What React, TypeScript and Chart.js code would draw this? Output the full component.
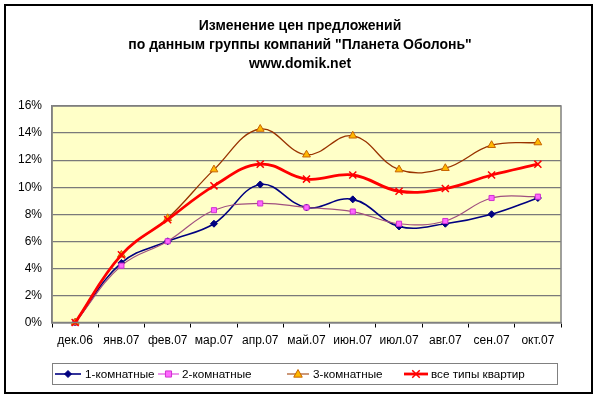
import React, { useEffect, useRef } from "react";
import { Chart, registerables } from "chart.js";

Chart.register(...registerables);

const titleLines = [
  "Изменение цен предложений",
  'по данным группы компаний "Планета Оболонь"',
  "www.domik.net",
];
const categories = ["дек.06", "янв.07", "фев.07", "мар.07", "апр.07", "май.07", "июн.07", "июл.07", "авг.07", "сен.07", "окт.07"];
const seriesNames = ["1-комнатные", "2-комнатные", "3-комнатные", "все типы квартир"];
const oneRoom = [0, 4.4, 6.0, 7.3, 10.2, 8.5, 9.1, 7.1, 7.3, 8.0, 9.2];
const twoRoom = [0, 4.2, 6.0, 8.3, 8.8, 8.5, 8.2, 7.3, 7.5, 9.2, 9.3];
const threeRoom = [0, 5.0, 7.7, 11.3, 14.3, 12.4, 13.8, 11.3, 11.4, 13.1, 13.3];
const allTypes = [0, 5.0, 7.6, 10.1, 11.7, 10.6, 10.9, 9.7, 9.9, 10.9, 11.7];
const yTicks = [0, 2, 4, 6, 8, 10, 12, 14, 16];

const FONT = "'Liberation Sans', Arial, sans-serif";

function drawMarker(ctx: CanvasRenderingContext2D, style: string, x: number, y: number, r: number, fill: string, stroke: string, lw: number) {
  ctx.save();
  ctx.fillStyle = fill;
  ctx.strokeStyle = stroke;
  ctx.lineWidth = lw;
  ctx.beginPath();
  if (style === "rectRot") {
    ctx.moveTo(x, y - r);
    ctx.lineTo(x + r, y);
    ctx.lineTo(x, y + r);
    ctx.lineTo(x - r, y);
    ctx.closePath();
    ctx.fill();
    ctx.stroke();
  } else if (style === "rect") {
    const s = r * 0.85;
    ctx.rect(x - s, y - s, 2 * s, 2 * s);
    ctx.fill();
    ctx.stroke();
  } else if (style === "triangle") {
    ctx.moveTo(x, y - r);
    ctx.lineTo(x + r * 0.95, y + r * 0.7);
    ctx.lineTo(x - r * 0.95, y + r * 0.7);
    ctx.closePath();
    ctx.fill();
    ctx.stroke();
  } else {
    const s = r * 0.75;
    ctx.moveTo(x - s, y - s);
    ctx.lineTo(x + s, y + s);
    ctx.moveTo(x + s, y - s);
    ctx.lineTo(x - s, y + s);
    ctx.stroke();
  }
  ctx.restore();
}

const framePlugin = {
  id: "frameAndDecor",
  beforeDraw(chart: any) {
    const ctx = chart.ctx as CanvasRenderingContext2D;
    const a = chart.chartArea;
    ctx.save();
    ctx.fillStyle = "#ffffff";
    ctx.fillRect(0, 0, chart.width, chart.height);
    ctx.fillStyle = "#FFFFC8";
    ctx.fillRect(a.left, a.top, a.right - a.left, a.bottom - a.top);
    ctx.restore();
  },
  afterDraw(chart: any) {
    const ctx = chart.ctx as CanvasRenderingContext2D;
    const a = chart.chartArea;
    ctx.save();
    // plot border
    ctx.strokeStyle = "#808080";
    ctx.lineWidth = 1.5;
    ctx.strokeRect(a.left, a.top, a.right - a.left, a.bottom - a.top);
    // outer frame
    ctx.strokeStyle = "#000000";
    ctx.lineWidth = 2;
    ctx.strokeRect(5, 5, 587, 388);
    // title
    ctx.fillStyle = "#000";
    ctx.font = `bold 14px ${FONT}`;
    ctx.textAlign = "center";
    ctx.textBaseline = "middle";
    const ty = [26, 45, 64];
    titleLines.forEach((t, i) => ctx.fillText(t, 300, ty[i]));
    // legend
    ctx.strokeStyle = "#808080";
    ctx.lineWidth = 1;
    ctx.strokeRect(52.5, 363.5, 505, 21);
    const sx = [55, 158, 287, 404];
    const sw = [26, 21, 22, 24];
    const tx = [85, 182, 313, 431];
    const ly = 374;
    ctx.font = `11.7px ${FONT}`;
    ctx.textAlign = "left";
    chart.data.datasets.forEach((ds: any, i: number) => {
      ctx.strokeStyle = ds.legendLine || ds.borderColor;
      ctx.lineWidth = ds.borderWidth;
      ctx.beginPath();
      ctx.moveTo(sx[i], ly);
      ctx.lineTo(sx[i] + sw[i], ly);
      ctx.stroke();
      drawMarker(ctx, ds.pointStyle, sx[i] + sw[i] / 2, ly, ds.pointRadius, ds.pointBackgroundColor, ds.pointBorderColor, ds.pointBorderWidth);
      ctx.fillStyle = "#000";
      ctx.fillText(ds.label, tx[i], ly + 0.5);
    });
    ctx.restore();
  },
};

export default function App() {
  const ref = useRef<HTMLCanvasElement>(null);
  useEffect(() => {
    if (!ref.current) return;
    const chart = new Chart(ref.current, {
      type: "line",
      data: {
        labels: categories,
        datasets: [
          {
            label: seriesNames[0],
            data: oneRoom,
            borderColor: "#000080",
            borderWidth: 1.6,
            pointStyle: "rectRot",
            pointRadius: 3.5,
            pointBackgroundColor: "#000080",
            pointBorderColor: "#000080",
            pointBorderWidth: 1,
            tension: 0.4,
            clip: false,
            order: 3,
          },
          {
            label: seriesNames[1],
            data: twoRoom,
            borderColor: "#A0507F",
            legendLine: "#E050E0",
            borderWidth: 1.2,
            pointStyle: "rect",
            pointRadius: 3.6,
            pointBackgroundColor: "#FF66FF",
            pointBorderColor: "#D030D0",
            pointBorderWidth: 1,
            tension: 0.4,
            clip: false,
            order: 2,
          },
          {
            label: seriesNames[2],
            data: threeRoom,
            borderColor: "#993300",
            legendLine: "#B06030",
            borderWidth: 1.3,
            pointStyle: "triangle",
            pointRadius: 4.5,
            pointBackgroundColor: "#FFB800",
            pointBorderColor: "#C86400",
            pointBorderWidth: 1,
            tension: 0.4,
            clip: false,
            order: 1,
          },
          {
            label: seriesNames[3],
            data: allTypes,
            borderColor: "#FF0000",
            borderWidth: 2.8,
            pointStyle: "crossRot",
            pointRadius: 5,
            pointBackgroundColor: "#FF0000",
            pointBorderColor: "#FF0000",
            pointBorderWidth: 1.5,
            tension: 0.4,
            clip: false,
            order: 0,
          },
        ] as any,
      },
      options: {
        responsive: false,
        animation: false,
        devicePixelRatio: 1,
        layout: { padding: { left: 0, top: 106, right: 39, bottom: 43.5 } },
        plugins: {
          legend: { display: false },
          title: { display: false },
          tooltip: { enabled: false },
        },
        scales: {
          x: {
            type: "category",
            offset: true,
            afterFit: (s: any) => {
              s.height = 30;
            },
            grid: {
              offset: true,
              drawOnChartArea: false,
              drawTicks: true,
              tickLength: 5,
              color: "#000",
            },
            border: { display: true, color: "#808080", width: 1.5 },
            ticks: {
              color: "#000",
              font: { family: FONT, size: 12 },
              padding: 6,
              maxRotation: 0,
              autoSkip: false,
            },
          },
          y: {
            min: 0,
            max: 16,
            afterFit: (s: any) => {
              s.width = 52;
            },
            afterBuildTicks: (s: any) => {
              s.ticks = yTicks.map((v) => ({ value: v }));
            },
            grid: { color: "#7A7A7A", lineWidth: 1.2, drawTicks: false },
            border: { display: true, color: "#808080", width: 1.5 },
            ticks: {
              color: "#000",
              font: { family: FONT, size: 12 },
              padding: 10,
              callback: (v: any) => `${v}%`,
            },
          },
        },
      },
      plugins: [framePlugin],
    });
    return () => chart.destroy();
  }, []);
  return (
    <div style={{ position: "absolute", left: 0, top: 0, width: 600, height: 396 }}>
      <canvas ref={ref} width={600} height={396} />
    </div>
  );
}
